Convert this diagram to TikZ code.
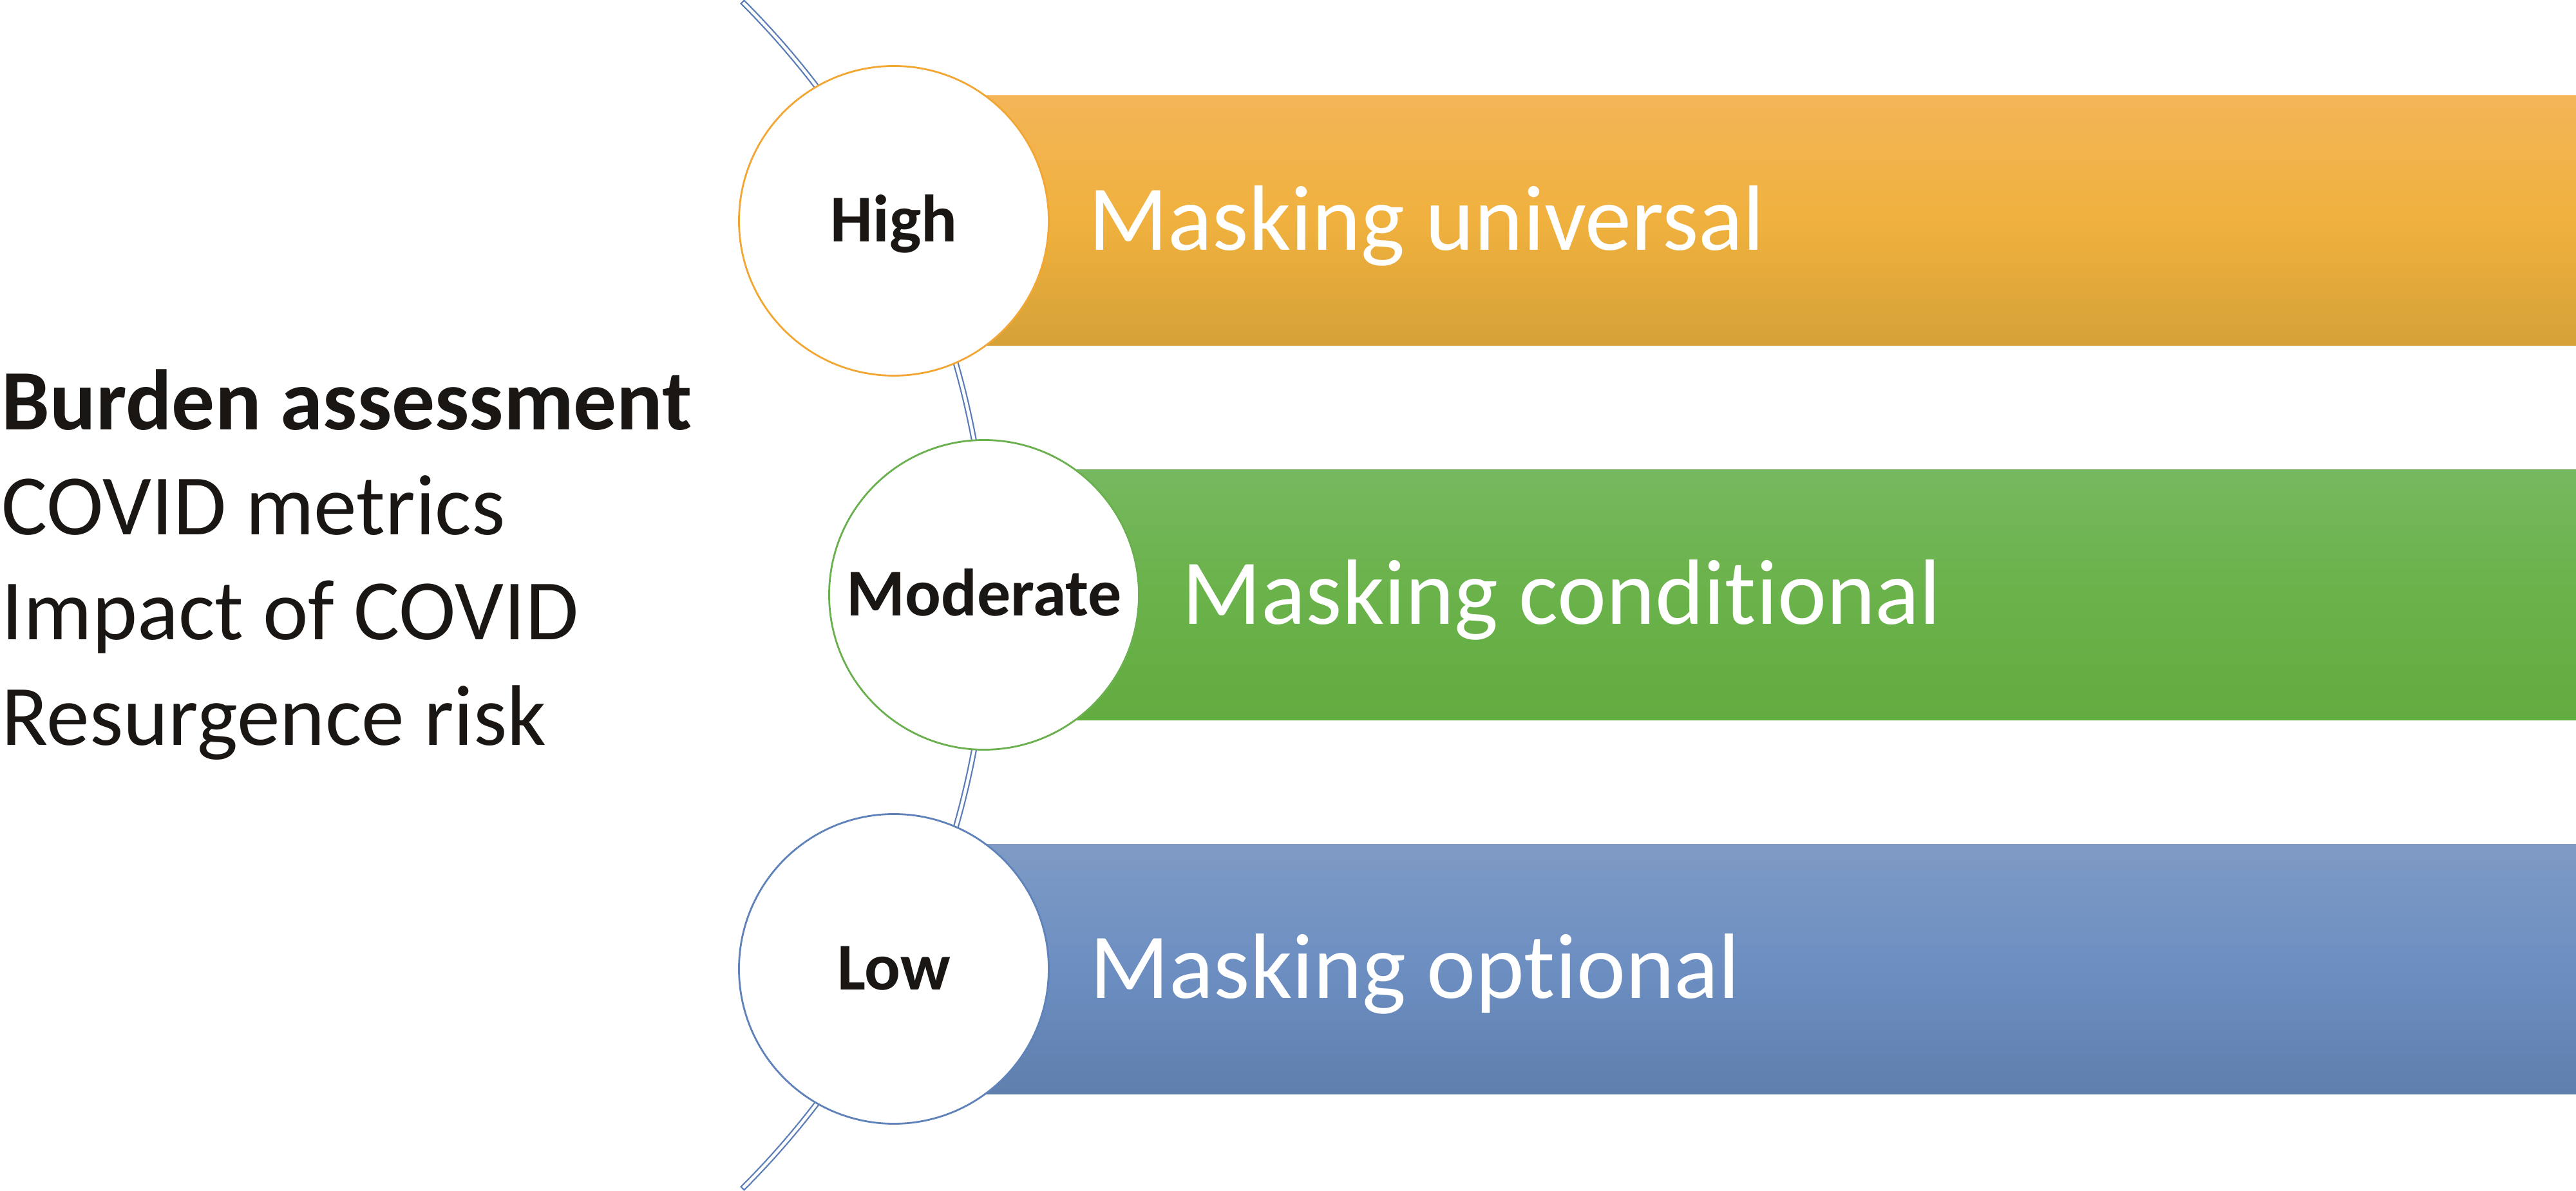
\documentclass[tikz,border=0pt]{standalone}
\usepackage{fontspec}
\setmainfont{Carlito}[Ligatures=NoCommon]
\usepackage{xcolor}
\usepackage{tikz}
\usetikzlibrary{positioning, backgrounds}

\definecolor{labelblack}{HTML}{1A1613}
\definecolor{arcblue}{HTML}{5B7DB7}
\definecolor{highline}{HTML}{F2A735}
\definecolor{modline}{HTML}{6BB04F}
\definecolor{lowline}{HTML}{5E82B9}
\definecolor{hightop}{HTML}{F3B557}
\definecolor{highmid}{HTML}{F0B13E}
\definecolor{highbot}{HTML}{D5A137}
\definecolor{modtop}{HTML}{76B85F}
\definecolor{modmid}{HTML}{6AB24A}
\definecolor{modbot}{HTML}{62AC40}
\definecolor{lowtop}{HTML}{7F9BC5}
\definecolor{lowmid}{HTML}{6C8EC1}
\definecolor{lowbot}{HTML}{5F7FAD}

\tikzset{
  riskcircle/.style={circle, draw, fill=white, line width=0.8pt, minimum size=4.81cm,
    inner sep=0pt, text=labelblack, font=\fontsize{29.6pt}{35pt}\selectfont\bfseries,
    text height=18.7pt, text depth=0pt},
  riskbar/.style={rectangle, inner sep=0pt, minimum height=3.88cm, anchor=west},
  masktext/.style={text=white, font=\fontsize{41pt}{49pt}\selectfont, inner sep=0pt,
    text height=25.9pt, text depth=0pt},
  arcline/.style={draw=arcblue, fill=white, line width=0.6pt}
}

\begin{document}
\begin{tikzpicture}

  \useasboundingbox (0,0) rectangle (40,18.49);

  \node[align=left, anchor=base west, inner sep=0pt, text=labelblack,
    font=\fontsize{38pt}{46.4pt}\selectfont] (burden) at (0.02,6.92)
  {\textbf{Burden assessment}\\COVID metrics\\Impact of COVID\\Resurgence risk};

  \node[riskcircle, draw=highline] (high) at (13.88,15.06) {High};
  \node[riskcircle, draw=modline] (moderate) at (15.28,9.25) {Moderate};
  \node[riskcircle, draw=lowline] (low) at (13.88,3.44) {Low};

  \node[masktext, right=0.6cm of high] (highText) {Masking universal};
  \node[masktext, right=0.65cm of moderate] (moderateText) {Masking conditional};
  \node[masktext, right=0.62cm of low] (lowText) {Masking optional};

  \begin{scope}[on background layer]
    \coordinate (arcCenter) at (2.317,9.245);
    \draw[arcline] (arcCenter) ++(45:13.065) arc[start angle=45, end angle=-45, radius=13.065]
      -- ++(135:0.07) arc[start angle=-45, end angle=45, radius=12.995] -- cycle;

    \node[riskbar, top color=hightop, bottom color=highbot, middle color=highmid,
      minimum width=26.12cm] (highBar) at (high.center) {};
    \node[riskbar, top color=modtop, bottom color=modbot, middle color=modmid,
      minimum width=24.72cm] (moderateBar) at (moderate.center) {};
    \node[riskbar, top color=lowtop, bottom color=lowbot, middle color=lowmid,
      minimum width=26.12cm] (lowBar) at (low.center) {};
  \end{scope}

\end{tikzpicture}
\end{document}
